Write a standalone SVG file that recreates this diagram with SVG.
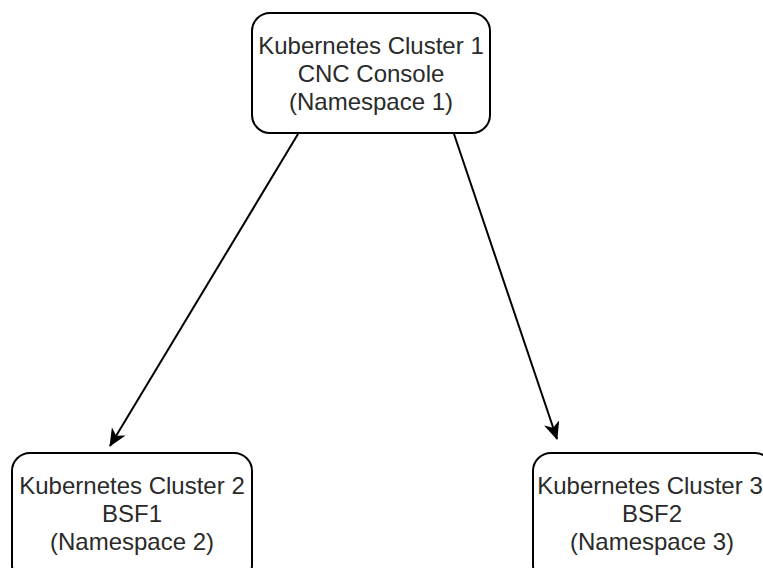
<svg xmlns="http://www.w3.org/2000/svg" width="763" height="568" viewBox="0 0 763 568">
  <style>
    .box { fill: #ffffff; stroke: #000000; stroke-width: 2; }
    .lbl { font-family: "Liberation Sans", Arial, sans-serif; font-size: 24px; fill: #2a2a2a; text-anchor: middle; }
    .edge { fill: none; stroke: #000000; stroke-width: 2; }
  </style>
  <defs>
    <marker id="arrow" markerUnits="userSpaceOnUse" viewBox="0 0 18 16" markerWidth="18" markerHeight="16" refX="17" refY="8" orient="auto">
      <path d="M18,8 L0,0 L5,8 L0,16 Z" fill="#000000"/>
    </marker>
  </defs>
  <rect width="763" height="568" fill="#ffffff"/>
  <g id="connectors">
    <line class="edge" x1="298" y1="134" x2="110" y2="446" marker-end="url(#arrow)"/>
    <line class="edge" x1="454" y1="134" x2="557" y2="439" marker-end="url(#arrow)"/>
  </g>
  <g id="node-cluster1">
    <rect class="box" x="252" y="13" width="238" height="120" rx="18" ry="18"/>
    <text class="lbl" x="371" y="54">Kubernetes Cluster 1</text>
    <text class="lbl" x="371" y="82">CNC Console</text>
    <text class="lbl" x="371" y="110">(Namespace 1)</text>
  </g>
  <g id="node-cluster2">
    <rect class="box" x="12" y="453" width="240" height="130" rx="18" ry="18"/>
    <text class="lbl" x="132" y="494">Kubernetes Cluster 2</text>
    <text class="lbl" x="132" y="522">BSF1</text>
    <text class="lbl" x="132" y="550">(Namespace 2)</text>
  </g>
  <g id="node-cluster3">
    <rect class="box" x="533" y="453" width="240" height="130" rx="18" ry="18"/>
    <text class="lbl" x="650" y="494">Kubernetes Cluster 3</text>
    <text class="lbl" x="652" y="522">BSF2</text>
    <text class="lbl" x="652" y="550">(Namespace 3)</text>
  </g>
</svg>
